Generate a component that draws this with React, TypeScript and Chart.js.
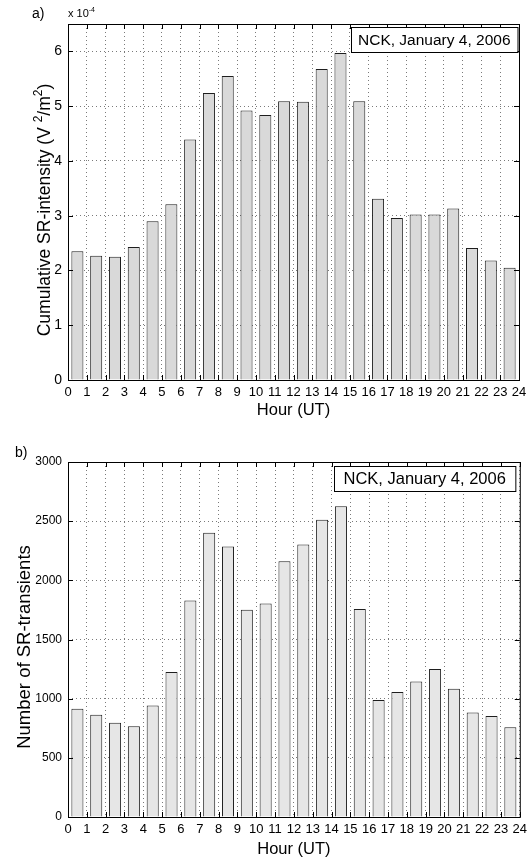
import React, { useEffect, useRef } from "react";
import { Chart, registerables } from "chart.js";

Chart.register(...registerables);

// ---------- data ----------
const HOURS = [0, 1, 2, 3, 4, 5, 6, 7, 8, 9, 10, 11, 12, 13, 14, 15, 16, 17, 18, 19, 20, 21, 22, 23];
const HOUR_TICKS = [0, 1, 2, 3, 4, 5, 6, 7, 8, 9, 10, 11, 12, 13, 14, 15, 16, 17, 18, 19, 20, 21, 22, 23, 24];
// cumulative SR intensity, in units of 1e-4 V^2/m^2
const INTENSITY = [2.35, 2.27, 2.25, 2.43, 2.9, 3.21, 4.39, 5.24, 5.55, 4.92, 4.84, 5.09, 5.08, 5.68, 5.97, 5.09, 3.31, 2.96, 3.02, 3.02, 3.13, 2.41, 2.18, 2.05];
const INTENSITY_TICKS = [0, 1, 2, 3, 4, 5, 6];
const INTENSITY_MAX = 6.5;
const INTENSITY_EXPONENT = "-4";
const TRANSIENTS = [915, 865, 797, 766, 943, 1225, 1830, 2402, 2286, 1752, 1805, 2162, 2303, 2512, 2627, 1757, 988, 1056, 1146, 1250, 1084, 884, 853, 758];
const TRANSIENT_TICKS = [0, 500, 1000, 1500, 2000, 2500, 3000];
const TRANSIENT_MAX = 3000;
const STATION_LABEL = "NCK, January 4, 2006";
const X_TITLE = "Hour (UT)";

const FONT = "'Liberation Sans', Arial, Helvetica, sans-serif";

type Part = { t: string; sup?: boolean };

type Panel = {
  values: number[];
  yTicks: number[];
  yMax: number;
  fill: string;
  height: number;
  top: number;
  padTop: number;
  padRight: number;
  xHeight: number;
  xFont: number;
  yFont: number;
  xPad: number;
  letter: string;
  letterX: number;
  letterY: number;
  yTitle: Part[];
  yTitleSize: number;
  yTitleBaseX: number;
  yTitleCenterY: number;
  xTitleBaseY: number;
  legendSize: number;
  legendPadX: number;
  legendTopOff: number;
  legendRightOff: number;
  exponent?: string;
};

function measureParts(ctx: CanvasRenderingContext2D, parts: Part[], size: number) {
  let w = 0;
  for (const p of parts) {
    ctx.font = `${p.sup ? Math.round(size * 0.68) : size}px ${FONT}`;
    w += ctx.measureText(p.t).width;
  }
  return w;
}

function drawParts(ctx: CanvasRenderingContext2D, parts: Part[], size: number, x: number, y: number) {
  let cx = x;
  for (const p of parts) {
    const s = p.sup ? Math.round(size * 0.68) : size;
    ctx.font = `${s}px ${FONT}`;
    ctx.fillText(p.t, cx, p.sup ? y - size * 0.45 : y);
    cx += ctx.measureText(p.t).width;
  }
}

function extrasPlugin(p: Panel) {
  return {
    id: "extras",
    afterDatasetsDraw(chart: any) {
      const { ctx, chartArea } = chart;
      const { left, right, top, bottom } = chartArea;
      const xs = chart.scales.x;
      const ys = chart.scales.y;
      ctx.save();
      ctx.setLineDash([]);
      ctx.strokeStyle = "#000";
      ctx.lineWidth = 1;
      // frame
      ctx.strokeRect(left + 0.5, top + 0.5, right - left, bottom - top);
      // inward ticks
      ctx.beginPath();
      for (const t of xs.ticks) {
        const px = Math.round(xs.getPixelForValue(t.value)) + 0.5;
        ctx.moveTo(px, bottom);
        ctx.lineTo(px, bottom - 5);
        ctx.moveTo(px, top);
        ctx.lineTo(px, top + 5);
      }
      for (const t of ys.ticks) {
        const py = Math.round(ys.getPixelForValue(t.value)) + 0.5;
        ctx.moveTo(left, py);
        ctx.lineTo(left + 5, py);
        ctx.moveTo(right, py);
        ctx.lineTo(right - 5, py);
      }
      ctx.stroke();

      // legend box
      ctx.font = `${p.legendSize}px ${FONT}`;
      const tw = ctx.measureText(STATION_LABEL).width;
      const bw = tw + 2 * p.legendPadX;
      const bh = 25;
      const bx = Math.round(right - p.legendRightOff - bw);
      const by = top + p.legendTopOff;
      ctx.fillStyle = "#fff";
      ctx.fillRect(bx, by, bw, bh);
      ctx.strokeRect(bx + 0.5, by + 0.5, bw, bh);
      ctx.fillStyle = "#000";
      ctx.textBaseline = "alphabetic";
      ctx.textAlign = "left";
      ctx.fillText(STATION_LABEL, bx + p.legendPadX, by + bh / 2 + p.legendSize * 0.36);

      // panel letter
      ctx.font = `14px ${FONT}`;
      ctx.fillText(p.letter, p.letterX, p.letterY);

      // exponent
      if (p.exponent) {
        drawParts(ctx, [{ t: "x 10" }, { t: p.exponent, sup: true }], 11, left, top - 7);
      }

      // x title
      ctx.font = `16.5px ${FONT}`;
      ctx.textAlign = "center";
      ctx.fillText(X_TITLE, (left + right) / 2, p.xTitleBaseY);

      // y title (rotated)
      ctx.textAlign = "left";
      const w = measureParts(ctx, p.yTitle, p.yTitleSize);
      ctx.translate(p.yTitleBaseX, p.yTitleCenterY);
      ctx.rotate(-Math.PI / 2);
      drawParts(ctx, p.yTitle, p.yTitleSize, -w / 2, 0);
      ctx.restore();
    },
  };
}

function makeConfig(p: Panel): any {
  return {
    type: "bar",
    data: {
      datasets: [
        {
          data: HOURS.map((h, i) => ({ x: h + 0.5, y: p.values[i] })),
          backgroundColor: p.fill,
          borderColor: "#1e1e1e",
          borderWidth: 1,
          barPercentage: 0.64,
          categoryPercentage: 1,
        },
      ],
    },
    options: {
      animation: false,
      responsive: false,
      devicePixelRatio: 1,
      layout: { padding: { left: 0, right: p.padRight, top: p.padTop, bottom: 0 } },
      plugins: { legend: { display: false }, tooltip: { enabled: false }, title: { display: false } },
      scales: {
        x: {
          type: "linear",
          min: 0,
          max: 24,
          offset: false,
          grid: { offset: false, color: "#7a7a7a", lineWidth: 1, drawTicks: false },
          border: { display: false, dash: [1, 3] },
          afterBuildTicks: (s: any) => {
            s.ticks = HOUR_TICKS.map((v) => ({ value: v }));
          },
          ticks: {
            autoSkip: false,
            maxRotation: 0,
            padding: p.xPad,
            color: "#000",
            font: { family: FONT, size: p.xFont },
            callback: (v: any) => String(v),
          },
          afterFit: (s: any) => {
            s.height = p.xHeight;
          },
        },
        y: {
          type: "linear",
          min: 0,
          max: p.yMax,
          grid: { color: "#7a7a7a", lineWidth: 1, drawTicks: false },
          border: { display: false, dash: [1, 3] },
          afterBuildTicks: (s: any) => {
            s.ticks = p.yTicks.map((v) => ({ value: v }));
          },
          ticks: {
            padding: 6,
            color: "#000",
            font: { family: FONT, size: p.yFont },
            callback: (v: any) => String(v),
          },
          afterFit: (s: any) => {
            s.width = 68;
          },
        },
      },
    },
    plugins: [extrasPlugin(p)],
  };
}

const PANELS: Panel[] = [
  {
    values: INTENSITY,
    yTicks: INTENSITY_TICKS,
    yMax: INTENSITY_MAX,
    fill: "#d9d9d9",
    height: 430,
    top: 0,
    padTop: 24,
    padRight: 13,
    xHeight: 50,
    xFont: 13,
    yFont: 14,
    xPad: 5,
    letter: "a)",
    letterX: 32,
    letterY: 18,
    yTitle: [{ t: "Cumulative SR-intensity (V " }, { t: "2", sup: true }, { t: "/m" }, { t: "2", sup: true }, { t: ")" }],
    yTitleSize: 17.5,
    yTitleBaseX: 50,
    yTitleCenterY: 210,
    xTitleBaseY: 414.5,
    legendSize: 15.5,
    legendPadX: 7,
    legendTopOff: 3,
    legendRightOff: 1,
    exponent: INTENSITY_EXPONENT,
  },
  {
    values: TRANSIENTS,
    yTicks: TRANSIENT_TICKS,
    yMax: TRANSIENT_MAX,
    fill: "#e6e6e6",
    height: 428,
    top: 430,
    padTop: 32,
    padRight: 12,
    xHeight: 41,
    xFont: 13,
    yFont: 12,
    xPad: 5,
    letter: "b)",
    letterX: 15,
    letterY: 27,
    yTitle: [{ t: "Number of SR-transients" }],
    yTitleSize: 18.5,
    yTitleBaseX: 30,
    yTitleCenterY: 217,
    xTitleBaseY: 424,
    legendSize: 16.5,
    legendPadX: 9.5,
    legendTopOff: 4,
    legendRightOff: 4,
  },
];

function PanelChart({ p }: { p: Panel }) {
  const ref = useRef<HTMLCanvasElement | null>(null);
  useEffect(() => {
    if (!ref.current) return;
    const chart = new Chart(ref.current, makeConfig(p));
    return () => chart.destroy();
  }, [p]);
  return (
    <canvas
      ref={ref}
      width={532}
      height={p.height}
      style={{ position: "absolute", left: 0, top: p.top, width: 532, height: p.height }}
    />
  );
}

export default function App() {
  return (
    <div style={{ position: "fixed", left: 0, top: 0, width: 532, height: 858, background: "#fff" }}>
      {PANELS.map((p, i) => (
        <PanelChart key={i} p={p} />
      ))}
    </div>
  );
}
